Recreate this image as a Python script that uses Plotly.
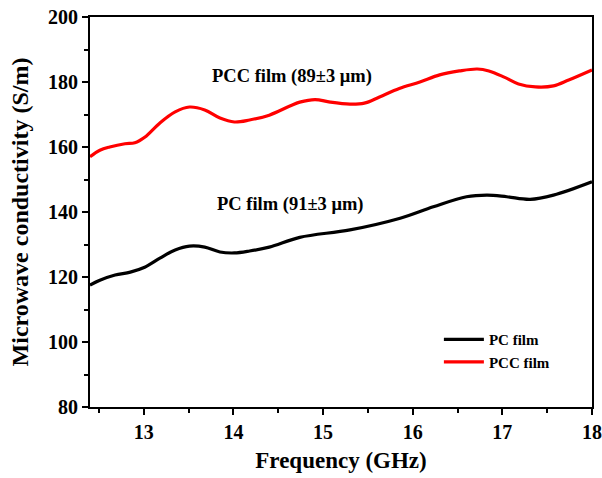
import plotly.graph_objects as go

freq_pcc = [12.4, 12.51, 12.62, 12.79, 12.9, 13.01, 13.18, 13.35, 13.51, 13.68, 13.85, 14.01, 14.18, 14.4, 14.63, 14.74,
            14.91, 15.08, 15.3, 15.46, 15.63, 15.85, 16.08, 16.3, 16.52, 16.72, 16.85, 17.02, 17.18, 17.37, 17.57, 17.74, 18.0]
cond_pcc = [157.0, 159.0, 160.0, 161.0, 161.3, 163.0, 167.4, 170.8, 172.3, 171.4, 168.9, 167.7, 168.3, 169.8, 172.6, 173.8,
            174.6, 173.8, 173.2, 173.5, 175.4, 178.0, 180.0, 182.2, 183.4, 184.0, 183.4, 181.5, 179.4, 178.5, 178.8, 180.6, 183.7]

freq_pc = [12.4, 12.51, 12.68, 12.85, 13.01, 13.18, 13.35, 13.51, 13.68, 13.85, 14.01, 14.18, 14.4, 14.74,
           15.3, 15.86, 16.23, 16.6, 16.83, 17.05, 17.31, 17.57, 18.0]
cond_pc = [117.5, 119.0, 120.6, 121.5, 123.0, 125.8, 128.3, 129.5, 129.2, 127.7, 127.4, 128.0, 129.2, 132.2,
           134.5, 138.1, 141.6, 144.7, 145.2, 144.7, 143.9, 145.2, 149.3]

labels = ["PC film", "PCC film"]
notes = ["PCC film (89±3 μm)", "PC film (91±3 μm)"]

serif = "Liberation Serif, Times New Roman, serif"

fig = go.Figure()
fig.add_trace(go.Scatter(x=freq_pc, y=cond_pc, mode="lines", name=labels[0],
                         line=dict(color="black", width=3.2, shape="spline", smoothing=1.0)))
fig.add_trace(go.Scatter(x=freq_pcc, y=cond_pcc, mode="lines", name=labels[1],
                         line=dict(color="#ff0000", width=3.2, shape="spline", smoothing=1.0)))

fig.add_annotation(x=14.65, y=181.8, text=notes[0], showarrow=False,
                   font=dict(family=serif, size=18.5, color="black", weight="bold"))
fig.add_annotation(x=14.64, y=142.2, text=notes[1], showarrow=False,
                   font=dict(family=serif, size=18.5, color="black", weight="bold"))

axis_common = dict(showline=True, linecolor="black", linewidth=2, mirror=True,
                   ticks="outside", ticklen=6, tickwidth=2, tickcolor="black",
                   showgrid=False, zeroline=False, automargin=False,
                   ticklabeloverflow="allow",
                   tickfont=dict(family=serif, size=20, color="black", weight="bold"))

fig.update_xaxes(range=[12.4, 18], dtick=1, tick0=13,
                 minor=dict(dtick=0.5, tick0=12.5, ticks="outside", ticklen=4, tickwidth=2, tickcolor="black"),
                 title=dict(text="Frequency (GHz)", font=dict(family=serif, size=23, color="black", weight="bold"), standoff=10),
                 **axis_common)
fig.update_yaxes(range=[80, 200], dtick=20,
                 minor=dict(dtick=10, ticks="outside", ticklen=4, tickwidth=2, tickcolor="black"),
                 title=dict(text="Microwave conductivity (S/m)", font=dict(family=serif, size=24, color="black", weight="bold"), standoff=13),
                 **axis_common)

fig.update_layout(width=602, height=478, margin=dict(l=90, r=10, t=17, b=71),
                  plot_bgcolor="white", paper_bgcolor="white",
                  showlegend=True,
                  legend=dict(x=0.695, y=0.215, xanchor="left", yanchor="top",
                              bgcolor="rgba(0,0,0,0)", borderwidth=0,
                              font=dict(family=serif, size=15, color="black", weight="bold"),
                              itemwidth=40, tracegroupgap=0))

# remove the page's default 8px body margin so the figure fills the 602x478 window exactly
fig.write_html("out.html", config={"displayModeBar": False},
               post_script="document.body.style.margin='0';document.body.style.overflow='hidden';")
